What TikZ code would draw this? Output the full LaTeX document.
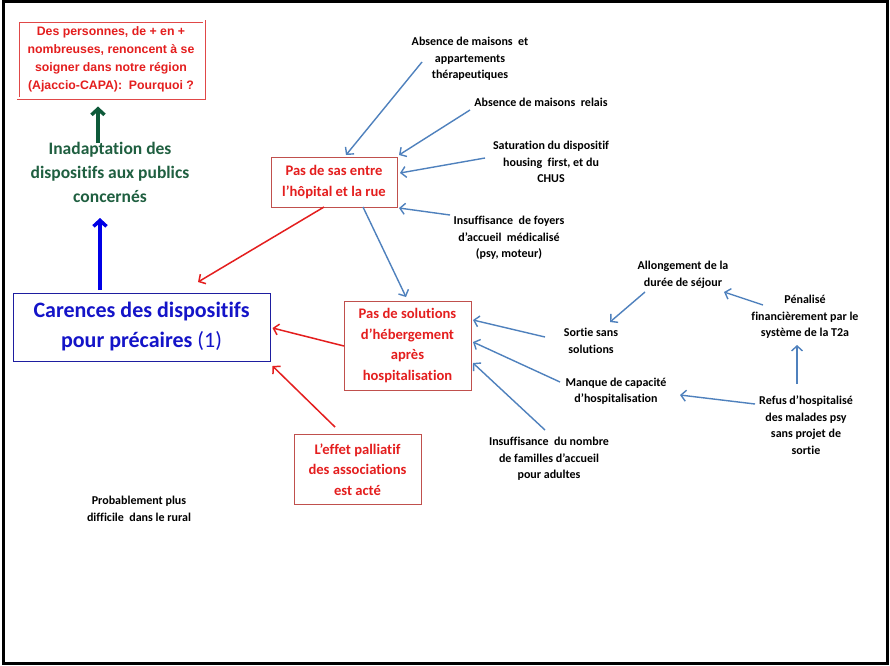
\documentclass[tikz,border=0pt]{standalone}
\usepackage{fontspec}
\setmainfont{Carlito}[Ligatures=NoCommon]
\newfontfamily\arialfont{Liberation Sans}
\usetikzlibrary{arrows.meta}

\definecolor{boxred}{HTML}{C0504D}
\definecolor{txtred}{HTML}{E41E1E}
\definecolor{toplinered}{HTML}{E04848}
\definecolor{arrblue}{HTML}{4F81BD}
\definecolor{navytxt}{HTML}{1414C8}
\definecolor{navyline}{HTML}{1E1EA0}
\definecolor{thickblue}{HTML}{0000E6}
\definecolor{dkgreen}{HTML}{1F5F40}
\definecolor{arrgreen}{HTML}{0E5A3A}

\tikzset{
  lbl/.style={font=\bfseries\fontsize{12}{16.5}\selectfont, align=center, inner sep=0pt, text=black},
  redbox/.style={draw=boxred, line width=0.9pt, text=txtred, align=center, inner sep=0pt,
    font=\bfseries\fontsize{14.6}{20.5}\selectfont},
  barrow/.style={draw=arrblue, line width=1.4pt, -{Straight Barb[length=5pt,width=11pt]}},
  rarrow/.style={draw=txtred, line width=1.5pt, -{Straight Barb[length=5pt,width=11pt]}},
}

\begin{document}
\begin{tikzpicture}[x=1pt,y=-1pt]
\useasboundingbox (0,0) rectangle (890,665);
\fill[white] (0,0) rectangle (890,665);
\draw[black, line width=3pt] (3.5,1.5) rectangle (887.5,663.5);

% question box at the top
\node[draw=toplinered, line width=0.8pt, double=white, double distance=1.4pt,
      minimum width=186pt, minimum height=77pt, inner sep=0pt, align=center,
      text=txtred, font=\arialfont\bfseries\fontsize{12.3}{18}\selectfont]
  (question) at (111,59.5) {Des personnes, de + en +\\nombreuses, renoncent à se\\soigner dans notre région\\(Ajaccio-CAPA):\ \ Pourquoi ?};

% green statement
\node[text=dkgreen, font=\bfseries\fontsize{17.5}{24}\selectfont, align=center, inner sep=0pt]
  (inadapt) at (110,172) {Inadaptation des\\dispositifs aux publics\\concernés};

% main blue box
\node[draw=navyline, line width=0.9pt, minimum width=257pt, minimum height=68pt,
      text=navytxt, align=center, inner sep=0pt, font=\bfseries\fontsize{22}{30}\selectfont]
  (carences) at (141.5,327) {Carences des dispositifs\\pour précaires {\mdseries(1)}};

% red cause boxes
\node[redbox, minimum width=126pt, minimum height=50pt] (sas) at (334,182)
  {Pas de sas entre\\l’hôpital et la rue};
\node[redbox, minimum width=127pt, minimum height=89pt] (sol) at (407.5,345.5)
  {Pas de solutions\\d’hébergement\\après\\hospitalisation};
\node[redbox, minimum width=127pt, minimum height=70pt] (effet) at (357.5,469.5)
  {L’effet palliatif\\des associations\\est acté};

% black labels
\node[lbl] (a1) at (470,59) {Absence de maisons\ \ et\\appartements\\thérapeutiques};
\node[lbl] (a2) at (541,102) {Absence de maisons\ \ relais};
\node[lbl] (a3) at (551,162) {Saturation du dispositif\\housing\ \ first, et du\\CHUS};
\node[lbl] (a4) at (509,238) {Insuffisance\ \ de foyers\\d’accueil\ \ médicalisé\\(psy, moteur)};
\node[lbl] (b1) at (683,275) {Allongement de la\\durée de séjour};
\node[lbl] (b2) at (805,317) {Pénalisé\\financièrement par le\\système de la T2a};
\node[lbl] (b3) at (591,341) {Sortie sans\\solutions};
\node[lbl] (b4) at (616,391) {Manque de capacité\\d’hospitalisation};
\node[lbl] (b5) at (806,425) {Refus d’hospitalisé\\des malades psy\\sans projet de\\sortie};
\node[lbl] (b6) at (549,459) {Insuffisance\ \ du nombre\\de familles d’accueil\\pour adultes};
\node[lbl] (rural) at (139,509) {Probablement plus\\difficile\ \ dans le rural};

% upward links
\draw[draw=arrgreen, line width=3.5pt, -{Straight Barb[length=6pt,width=13pt]}]
  ([shift={(-12,-29)}]inadapt.center) -- ([shift={(-13,47)}]question.center);
\draw[draw=thickblue, line width=3.5pt, -{Straight Barb[length=6pt,width=13pt]}]
  ([shift={(-41.5,-37)}]carences.center) -- ([shift={(-10,46)}]inadapt.center);

% causes of the missing transition
\draw[barrow] ([shift={(-48,3)}]a1.center) -- ([shift={(12,-27)}]sas.center);
\draw[barrow] ([shift={(-71,8)}]a2.center) -- ([shift={(65,-27)}]sas.center);
\draw[barrow] ([shift={(-66,-4)}]a3.center) -- ([shift={(66,-9)}]sas.center);
\draw[barrow] ([shift={(-59,-23)}]a4.center) -- ([shift={(65,26)}]sas.center);
\draw[barrow] ([shift={(29,25)}]sas.center) -- ([shift={(-1.5,-48.5)}]sol.center);

% causes of the lack of housing
\draw[barrow] ([shift={(-46,-4)}]b3.center) -- ([shift={(65.5,-25.5)}]sol.center);
\draw[barrow] ([shift={(-56,-9)}]b4.center) -- ([shift={(65.5,-3.5)}]sol.center);
\draw[barrow] ([shift={(-4,-29)}]b6.center) -- ([shift={(65.5,17.5)}]sol.center);
\draw[barrow] ([shift={(-38,17)}]b1.center) -- ([shift={(19,-19)}]b3.center);
\draw[barrow] ([shift={(-42,-12)}]b2.center) -- ([shift={(41,17)}]b1.center);
\draw[barrow] ([shift={(-51,-21)}]b5.center) -- ([shift={(64,4)}]b4.center);
\draw[barrow] ([shift={(-9,-41)}]b5.center) -- ([shift={(-8,28)}]b2.center);

% consequences towards the main box
\draw[rarrow] ([shift={(-10,25)}]sas.center) -- ([shift={(56.5,-45)}]carences.center);
\draw[rarrow] ([shift={(-63.5,0.5)}]sol.center) -- ([shift={(131,1)}]carences.center);
\draw[rarrow] ([shift={(-22.5,-42.5)}]effet.center) -- ([shift={(131,39)}]carences.center);
\end{tikzpicture}
\end{document}
